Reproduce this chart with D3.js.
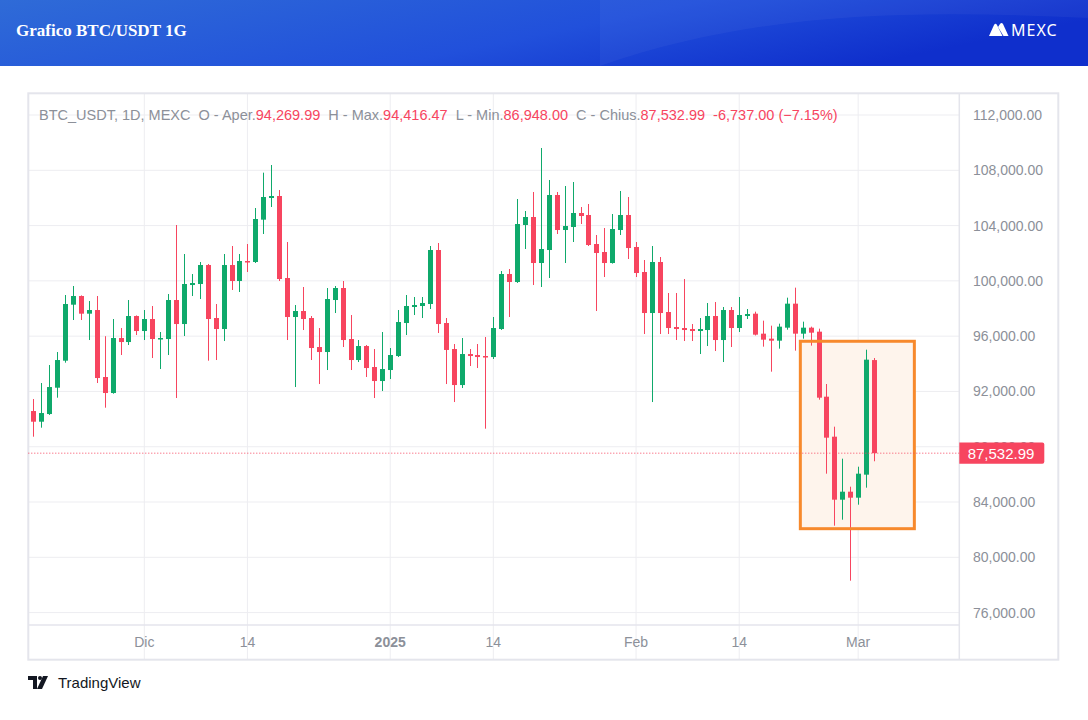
<!DOCTYPE html>
<html>
<head>
<meta charset="utf-8" />
<title>Grafico BTC/USDT 1G</title>
<script src="https://d3js.org/d3.v7.min.js"></script>
<style>
    html, body { margin: 0; padding: 0; background: #ffffff; }
    svg { display: block; }
</style>
</head>
<body>
<script>
// daily candles, first one is 17 Nov 2024
var startDay = "2024-11-17";
var opens = [90583, 89811, 90366, 92271, 94225, 98277, 98904, 97626, 97891, 93044,
    91886, 95865, 95575, 97457, 96372, 97240, 95793, 95793, 98615, 96878,
    99700, 99773, 101147, 97312, 96516, 101147, 99990, 101437, 101365, 104428,
    105996, 106140, 100207, 97385, 97819, 97312, 95214, 94852, 98615, 99483,
    95793, 94273, 95286, 93767, 92754, 93550, 94563, 96951, 98109, 98181,
    98326, 102233, 96951, 95069, 92464, 94707, 94635, 94563, 94490, 96516,
    100496, 99917, 104042, 104621, 101292, 102233, 106213, 103680, 103897, 104910,
    104765, 102667, 102088, 101292, 103680, 104765, 102450, 100641, 97674, 101365,
    97747, 96661, 96589, 96516, 96372, 96444, 97457, 95720, 97891, 96589,
    97457, 97627, 96180, 95818, 95674, 96614, 98351, 96180, 96614, 96325,
    91621, 88727, 84168, 84747, 84313, 85978, 94269.99];
var highs = [91451, 92609, 93912, 94852, 98977, 99628, 98950, 98542, 98904, 95997,
    97240, 96589, 98614, 97500, 97891, 98180, 96300, 99049, 104042, 101944,
    100496, 101365, 101220, 98325, 101944, 102522, 101944, 102667, 105272, 107829,
    108383, 106574, 102812, 98253, 99556, 97457, 96589, 99483, 99628, 99990,
    97529, 95720, 95359, 95069, 96300, 95142, 97891, 98977, 98832, 98832,
    102522, 102739, 97312, 95431, 95865, 95069, 95431, 95937, 97385, 100713,
    100858, 105923, 105055, 106430, 109614, 107298, 106430, 106864, 107153, 105344,
    105561, 103318, 103825, 104838, 106502, 106068, 102812, 101510, 102522, 101727,
    99122, 99122, 100134, 96878, 97312, 98398, 98470, 98109, 98109, 98832,
    97964, 97772, 97121, 96759, 96904, 98785, 99509, 97049, 96687, 96542,
    92538, 89451, 87135, 85109, 86556, 95022, 94416.47];
var lows = [88726, 89377, 90300, 91548, 94081, 97168, 97168, 95720, 92609, 90824,
    91837, 94635, 95359, 96082, 95720, 94418, 93622, 94635, 91524, 96010,
    98904, 98687, 94225, 94273, 95648, 99339, 99194, 100641, 101293, 103391,
    105344, 99990, 95720, 92319, 96444, 94273, 92536, 93550, 97674, 95214,
    93550, 94129, 93044, 91524, 92030, 92898, 94490, 96082, 97529, 97312,
    97964, 96227, 92536, 91234, 92247, 93839, 93694, 89305, 94346, 96450,
    97385, 99850, 102305, 99700, 99556, 100207, 103391, 101292, 102812, 104114,
    102522, 97819, 100279, 101250, 103318, 101582, 100279, 96154, 91234, 96154,
    96154, 95720, 95648, 95648, 94707, 95286, 94925, 94129, 95214, 96300,
    97240, 96050, 95240, 93430, 95095, 96469, 94950, 95818, 95312, 91404,
    86050, 82287, 82721, 78307, 83806, 85037, 86948.00];
var closes = [89811, 90438, 92319, 94273, 98325, 98904, 97626, 97891, 92971, 91886,
    95865, 95575, 97457, 96372, 97240, 95793, 95865, 98615, 96878, 99773,
    99845, 101147, 97240, 96516, 101147, 99990, 101437, 101365, 104476, 106068,
    106140, 100134, 97385, 97819, 97240, 95142, 94852, 98687, 99483, 95720,
    94273, 95286, 93694, 92754, 93622, 94635, 97023, 98181, 98253, 98398,
    102233, 96878, 95002, 92464, 94707, 94563, 94490, 94490, 96589, 100496,
    99917, 104114, 104621, 101292, 102305, 106213, 103680, 103970, 104910, 104693,
    102595, 102016, 101292, 103753, 104765, 102377, 100569, 97674, 101365, 97674,
    96589, 96516, 96444, 96372, 96516, 97457, 95720, 97891, 96589, 97529,
    97602, 96108, 95746, 95674, 96687, 98351, 96180, 96614, 96252, 91549,
    88655, 84168, 84747, 84313, 86050, 94299, 87532.99];

var priceTicks = [76000, 80000, 84000, 88000, 92000, 96000, 100000, 104000, 108000, 112000];
var timeTicks = ["2024-12-01", "2024-12-14", "2025-01-01", "2025-01-14", "2025-02-01", "2025-02-14", "2025-03-01"];
var timeLabels = ["Dic", "14", "2025", "14", "Feb", "14", "Mar"];

// highlighted zone (dates and prices)
var zoneDates = ["2025-02-21T17:00:00Z", "2025-03-08T02:00:00Z"];
var zonePrices = [95630, 82070];

var lastPrice = 87532.99;
var changeText = "-6,737.00 (\u22127.15%)";

var W = 1088, H = 720;
var red = "#f7455f", green = "#0fa96b", grey = "#8c9099";

var parse = function (s) { return new Date(s.length == 10 ? s + "T00:00:00Z" : s); };
var day0 = parse(startDay);
var candles = closes.map(function (c, i) {
    return { date: d3.utcDay.offset(day0, i), o: opens[i], h: highs[i], l: lows[i], c: c };
});

var svg = d3.select("body").append("svg").attr("width", W).attr("height", H);
var defs = svg.append("defs");

// header band
var grad = defs.append("linearGradient").attr("id", "hdr").attr("x1", 0).attr("x2", 1).attr("y1", 0).attr("y2", 0.3);
grad.append("stop").attr("offset", "0%").attr("stop-color", "#2f6bd7");
grad.append("stop").attr("offset", "60%").attr("stop-color", "#2150db");
grad.append("stop").attr("offset", "100%").attr("stop-color", "#0f2fcc");
svg.append("rect").attr("width", W).attr("height", 66).attr("fill", "url(#hdr)");
svg.append("path")
    .attr("d", "M600,66 C760,10 920,10 1088,18 L1088,0 L600,0 Z")
    .attr("fill", "#ffffff").attr("opacity", 0.04);
svg.append("text").attr("x", 16).attr("y", 36)
    .attr("font-family", "Liberation Serif, serif").attr("font-weight", "bold").attr("font-size", 17)
    .attr("fill", "#ffffff").text("Grafico BTC/USDT 1G");
var logo = svg.append("g").attr("transform", "translate(989,23)");
logo.append("path").attr("d", "M0,13 L5,2 Q6.5,-0.5 8,2 L12,10 L13.5,13 Z").attr("fill", "#ffffff");
logo.append("path").attr("d", "M9,4 L11,1 Q12.5,-1 14,1 L19.5,13 L14.5,13 Z").attr("fill", "#ffffff");
logo.append("text").attr("x", 22).attr("y", 13).attr("font-family", "Noto Sans, sans-serif")
    .attr("font-size", 16).attr("letter-spacing", 1).attr("fill", "#ffffff").text("MEXC");

// chart frame
var plotL = 28.3, plotR = 959.3, plotT = 93.3, plotB = 625, frameR = 1058.3, frameB = 659.7;

var x = d3.scaleUtc()
    .domain([d3.utcHour.offset(day0, -15), d3.utcHour.offset(day0, Math.round(116.77 * 24))])
    .range([plotL, plotR]);
var y = d3.scaleLinear().domain([75102, 113571]).range([plotB, plotT]);

// grid
svg.append("g").selectAll("line").data(priceTicks).join("line")
    .attr("x1", plotL).attr("x2", plotR).attr("y1", function (d) { return y(d); }).attr("y2", function (d) { return y(d); })
    .attr("stroke", "#ededf1").attr("stroke-width", 1);
svg.append("g").selectAll("line").data(timeTicks).join("line")
    .attr("x1", function (d) { return x(parse(d)); }).attr("x2", function (d) { return x(parse(d)); })
    .attr("y1", plotT).attr("y2", frameB)
    .attr("stroke", "#ededf1").attr("stroke-width", 1);

svg.append("rect").attr("x", plotL).attr("y", plotT).attr("width", frameR - plotL).attr("height", frameB - plotT)
    .attr("fill", "none").attr("stroke", "#e4e5ec").attr("stroke-width", 2);
svg.append("line").attr("x1", plotR).attr("x2", plotR).attr("y1", plotT).attr("y2", frameB)
    .attr("stroke", "#e4e5ec").attr("stroke-width", 1.5);
svg.append("line").attr("x1", plotL).attr("x2", plotR).attr("y1", plotB).attr("y2", plotB)
    .attr("stroke", "#e4e5ec").attr("stroke-width", 1.5);

// zone fill
var zx0 = x(parse(zoneDates[0])), zx1 = x(parse(zoneDates[1]));
var zy0 = y(zonePrices[0]), zy1 = y(zonePrices[1]);
svg.append("rect").attr("x", zx0).attr("y", zy0).attr("width", zx1 - zx0).attr("height", zy1 - zy0)
    .attr("fill", "#fef4ec");

// candles
var bw = 5;
var cg = svg.append("g").selectAll("g").data(candles).join("g");
cg.append("line")
    .attr("x1", function (d) { return Math.round(x(d.date)) + 0.5; })
    .attr("x2", function (d) { return Math.round(x(d.date)) + 0.5; })
    .attr("y1", function (d) { return y(d.h); }).attr("y2", function (d) { return y(d.l); })
    .attr("stroke", function (d) { return d.c >= d.o ? green : red; }).attr("stroke-width", 1);
cg.append("rect")
    .attr("x", function (d) { return Math.round(x(d.date)) + 0.5 - bw / 2; })
    .attr("width", bw)
    .attr("y", function (d) { return y(Math.max(d.o, d.c)); })
    .attr("height", function (d) { return Math.max(1.5, Math.abs(y(d.o) - y(d.c))); })
    .attr("fill", function (d) { return d.c >= d.o ? green : red; });

// zone border
svg.append("rect").attr("x", zx0).attr("y", zy0).attr("width", zx1 - zx0).attr("height", zy1 - zy0)
    .attr("fill", "none").attr("stroke", "#f7892c").attr("stroke-width", 3);

// last price line
svg.append("line").attr("x1", plotL).attr("x2", plotR).attr("y1", y(lastPrice)).attr("y2", y(lastPrice))
    .attr("stroke", red).attr("stroke-width", 1).attr("stroke-dasharray", "1,2");

// price axis labels
var fmt = d3.format(",.2f");
svg.append("g").selectAll("text").data(priceTicks).join("text")
    .attr("x", 973).attr("y", function (d) { return y(d) + 5; })
    .attr("font-family", "Liberation Sans, sans-serif").attr("font-size", 14)
    .attr("fill", grey).text(function (d) { return fmt(d); });

svg.append("path")
    .attr("d", "M" + plotR + "," + (y(lastPrice) - 10.7) + " h83 q2,0 2,2 v17.3 q0,2 -2,2 h-83 Z")
    .attr("fill", red);
svg.append("text").attr("x", 1001).attr("y", y(lastPrice) + 5.5).attr("text-anchor", "middle")
    .attr("font-family", "Liberation Sans, sans-serif").attr("font-size", 15).attr("fill", "#ffffff")
    .text(fmt(lastPrice));

// time axis labels
svg.append("g").selectAll("text").data(timeTicks).join("text")
    .attr("x", function (d) { return x(parse(d)); }).attr("y", 647).attr("text-anchor", "middle")
    .attr("font-family", "Liberation Sans, sans-serif").attr("font-size", 14)
    .attr("font-weight", function (d, i) { return timeLabels[i] == "2025" ? "bold" : "normal"; })
    .attr("fill", grey).text(function (d, i) { return timeLabels[i]; });

// legend line
var last = candles[candles.length - 1];
var parts = [
    ["BTC_USDT, 1D, MEXC\u00a0\u00a0O - Aper.", grey], [fmt(last.o), red],
    ["\u00a0\u00a0H - Max.", grey], [fmt(last.h), red],
    ["\u00a0\u00a0L - Min.", grey], [fmt(last.l), red],
    ["\u00a0\u00a0C - Chius.", grey], [fmt(last.c), red],
    ["\u00a0\u00a0" + changeText, red]
];
var leg = svg.append("text").attr("x", 39).attr("y", 120)
    .attr("font-family", "Liberation Sans, sans-serif").attr("font-size", 14.5);
parts.forEach(function (p) { leg.append("tspan").attr("fill", p[1]).text(p[0]); });

// footer logo
var tv = svg.append("g").attr("transform", "translate(28,676)");
tv.append("path").attr("d", "M0,0 H9 V13 H5 V4 H0 Z").attr("fill", "#131722");
tv.append("circle").attr("cx", 12).attr("cy", 2).attr("r", 2).attr("fill", "#131722");
tv.append("path").attr("d", "M15,0 H20 L14,13 H9 Z").attr("fill", "#131722");
svg.append("text").attr("x", 58).attr("y", 688)
    .attr("font-family", "Liberation Sans, sans-serif").attr("font-size", 15).attr("fill", "#131722")
    .text("TradingView");
</script>
</body>
</html>
